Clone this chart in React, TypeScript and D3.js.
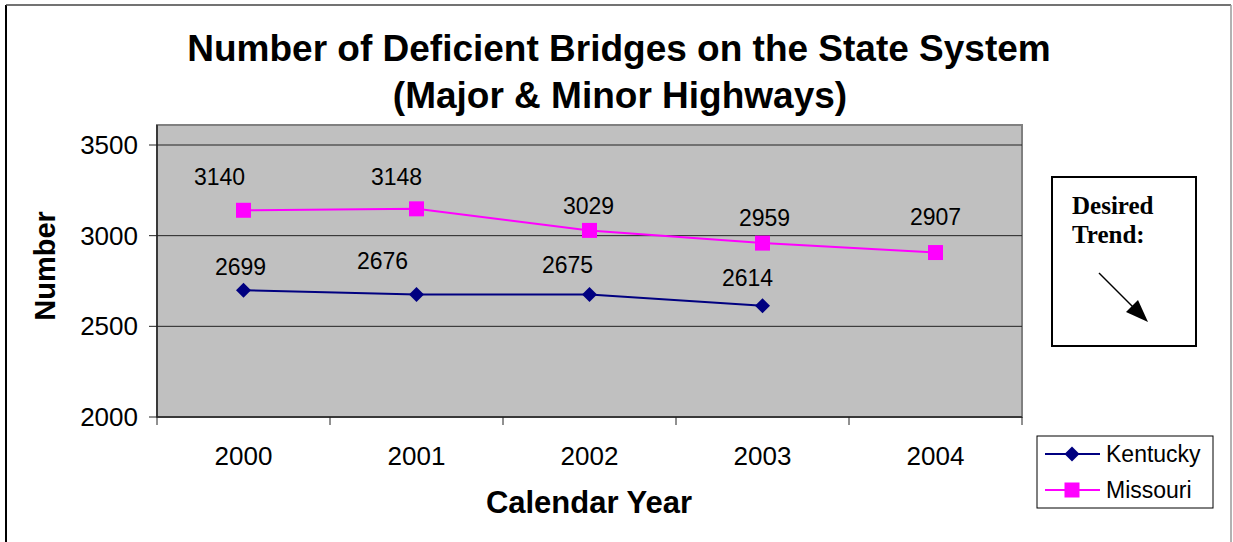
import React from "react";
import * as d3 from "d3";

const years = ["2000", "2001", "2002", "2003", "2004"];
const kentucky = [2699, 2676, 2675, 2614];
const missouri = [3140, 3148, 3029, 2959, 2907];
const yTicks = [2000, 2500, 3000, 3500];
const seriesNames = ["Kentucky", "Missouri"];

// layout constants (manual label nudges as in the original)
const KY_NUDGE: [number, number][] = [[-3, -23], [-34, -33], [-22, -30], [-15, -28]];
const MO_NUDGE: [number, number][] = [[-24, -33], [-20, -32], [-1, -24], [2, -25], [0, -36]];

const W = 1233;
const H = 542;
const PL = 157, PR = 1022, PT = 125, PB = 417;
const SANS = "'Liberation Sans', Arial, Helvetica, sans-serif";
const SERIF = "'Liberation Serif', 'Times New Roman', serif";
const KY_COLOR = "#000080";
const MO_COLOR = "#FF00FF";

function Diamond({ x, y, r, color }: { x: number; y: number; r: number; color: string }) {
  return <path d={`M${x},${y - r}L${x + r},${y}L${x},${y + r}L${x - r},${y}Z`} fill={color} />;
}
function Square({ x, y, s, color }: { x: number; y: number; s: number; color: string }) {
  return <rect x={x - s / 2} y={y - s / 2} width={s} height={s} fill={color} />;
}

export default function App() {
  const x = d3.scaleBand().domain(years).range([PL, PR]).padding(0);
  const cx = (i: number) => (x(years[i]) as number) + x.bandwidth() / 2;
  const y = d3.scaleLinear().domain([2000, 3500]).range([PB, 145]);
  const line = d3.line<number>().x((_, i) => cx(i)).y((d) => y(d));
  const boundaries = years.map((yr) => x(yr) as number).concat([PR]);

  return (
    <svg width={W} height={H} style={{ position: "absolute", left: 0, top: 0, background: "#fff" }}>
      {/* outer frame */}
      <line x1={6} y1={5} x2={6} y2={H} stroke="#000" strokeWidth={2} />
      <line x1={6} y1={5} x2={1231} y2={5} stroke="#444" strokeWidth={1.5} />
      <line x1={1231} y1={5} x2={1231} y2={H} stroke="#999" strokeWidth={1.5} />

      {/* title */}
      <text x={619} y={61} textAnchor="middle" fontFamily={SANS} fontWeight="bold" fontSize={37}>
        Number of Deficient Bridges on the State System
      </text>
      <text x={620} y={108} textAnchor="middle" fontFamily={SANS} fontWeight="bold" fontSize={37}>
        (Major &amp; Minor Highways)
      </text>

      {/* plot area */}
      <rect x={PL} y={PT} width={PR - PL} height={PB - PT} fill="#C0C0C0" stroke="#808080" strokeWidth={2} />
      {yTicks.slice(1).map((t) => (
        <line key={t} x1={PL} x2={PR} y1={y(t)} y2={y(t)} stroke="#222" strokeWidth={1} />
      ))}
      <line x1={PL} x2={PL} y1={PT} y2={PB} stroke="#222" strokeWidth={1.5} />
      <line x1={PL} x2={PR} y1={PB} y2={PB} stroke="#222" strokeWidth={1.5} />

      {/* y ticks */}
      {yTicks.map((t) => (
        <g key={t}>
          <line x1={149} x2={PL} y1={y(t)} y2={y(t)} stroke="#222" strokeWidth={1} />
          <text x={138} y={y(t) + 9} textAnchor="end" fontFamily={SANS} fontSize={26}>
            {t}
          </text>
        </g>
      ))}
      {/* x ticks */}
      {boundaries.map((b, i) => (
        <line key={i} x1={b} x2={b} y1={PB} y2={PB + 8} stroke="#222" strokeWidth={1} />
      ))}
      {years.map((yr, i) => (
        <text key={yr} x={cx(i)} y={465} textAnchor="middle" fontFamily={SANS} fontSize={26}>
          {yr}
        </text>
      ))}

      {/* axis titles */}
      <text
        transform="translate(55,266) rotate(-90)"
        textAnchor="middle"
        fontFamily={SANS}
        fontWeight="bold"
        fontSize={29}
      >
        Number
      </text>
      <text x={589} y={513} textAnchor="middle" fontFamily={SANS} fontWeight="bold" fontSize={31}>
        Calendar Year
      </text>

      {/* series */}
      <path d={line(kentucky) || ""} fill="none" stroke={KY_COLOR} strokeWidth={2} />
      <path d={line(missouri) || ""} fill="none" stroke={MO_COLOR} strokeWidth={2} />
      {kentucky.map((v, i) => (
        <Diamond key={i} x={cx(i)} y={y(v)} r={7.5} color={KY_COLOR} />
      ))}
      {missouri.map((v, i) => (
        <Square key={i} x={cx(i)} y={y(v)} s={15} color={MO_COLOR} />
      ))}
      {kentucky.map((v, i) => (
        <text
          key={i}
          x={cx(i) + KY_NUDGE[i][0]}
          y={y(v) + KY_NUDGE[i][1] + 8}
          textAnchor="middle"
          fontFamily={SANS}
          fontSize={23}
        >
          {v}
        </text>
      ))}
      {missouri.map((v, i) => (
        <text
          key={i}
          x={cx(i) + MO_NUDGE[i][0]}
          y={y(v) + MO_NUDGE[i][1] + 8}
          textAnchor="middle"
          fontFamily={SANS}
          fontSize={23}
        >
          {v}
        </text>
      ))}

      {/* desired trend box */}
      <rect x={1052} y={177} width={144} height={169} fill="#fff" stroke="#000" strokeWidth={2} />
      <text x={1072} y={214} fontFamily={SERIF} fontWeight="bold" fontSize={25}>
        Desired
      </text>
      <text x={1072} y={243} fontFamily={SERIF} fontWeight="bold" fontSize={25}>
        Trend:
      </text>
      <line x1={1099} y1={273} x2={1136} y2={310} stroke="#000" strokeWidth={1.5} />
      <path d="M1148,322 L1126,312 L1138,300 Z" fill="#000" />

      {/* legend */}
      <rect x={1037} y={436} width={176} height={72} fill="#fff" stroke="#000" strokeWidth={1} />
      <line x1={1045} x2={1100} y1={454} y2={454} stroke={KY_COLOR} strokeWidth={2} />
      <Diamond x={1072} y={454} r={7.5} color={KY_COLOR} />
      <text x={1106} y={462} fontFamily={SANS} fontSize={23}>
        {seriesNames[0]}
      </text>
      <line x1={1045} x2={1100} y1={490} y2={490} stroke={MO_COLOR} strokeWidth={2} />
      <Square x={1072} y={490} s={15} color={MO_COLOR} />
      <text x={1106} y={498} fontFamily={SANS} fontSize={23}>
        {seriesNames[1]}
      </text>
    </svg>
  );
}
